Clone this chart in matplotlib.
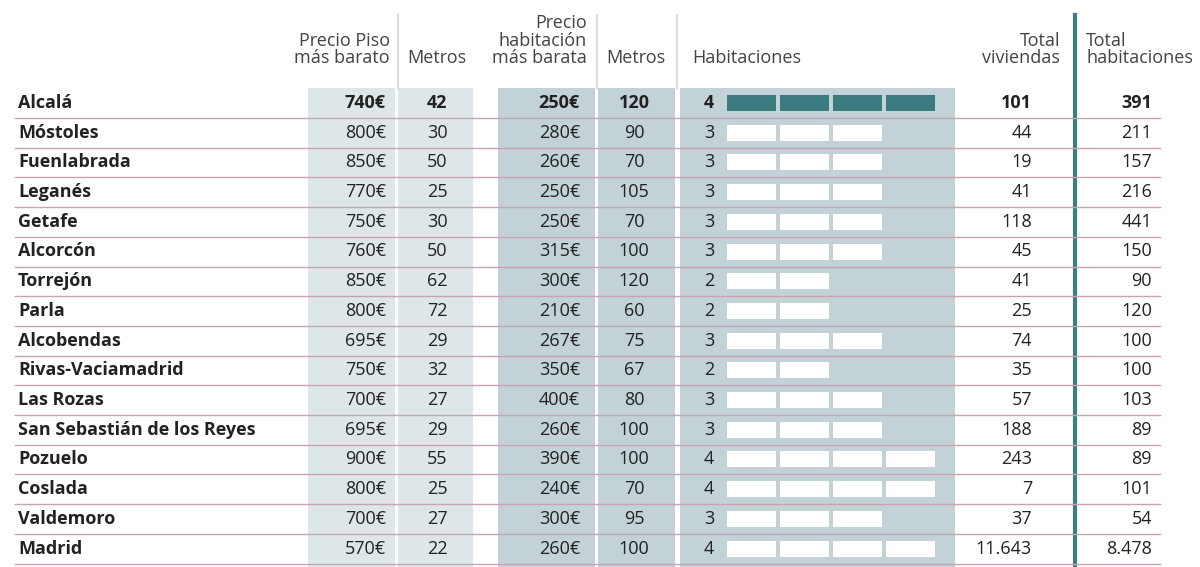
import matplotlib
matplotlib.use("Agg")
import matplotlib.pyplot as plt
from matplotlib.patches import Rectangle

cities = ["Alcalá","Móstoles","Fuenlabrada","Leganés","Getafe","Alcorcón","Torrejón","Parla",
          "Alcobendas","Rivas-Vaciamadrid","Las Rozas","San Sebastián de los Reyes","Pozuelo",
          "Coslada","Valdemoro","Madrid"]
precio_piso = [740,800,850,770,750,760,850,800,695,750,700,695,900,800,700,570]
metros_piso = [42,30,50,25,30,50,62,72,29,32,27,29,55,25,27,22]
precio_hab = [250,280,260,250,250,315,300,210,267,350,400,260,390,240,300,260]
metros_hab = [120,90,70,105,70,100,120,60,75,67,80,100,100,70,95,100]
habitaciones = [4,3,3,3,3,3,2,2,3,2,3,3,4,4,3,4]
total_viv = ["101","44","19","41","118","45","41","25","74","35","57","188","243","7","37","11.643"]
total_hab = ["391","211","157","216","441","150","90","120","100","100","103","89","89","101","54","8.478"]

fig = plt.figure(figsize=(12, 5.67), dpi=100)
ax = fig.add_axes([0, 0, 1, 1])
ax.set_xlim(0, 1200); ax.set_ylim(567, 0); ax.axis("off")
plt.rcParams["font.family"] = "Open Sans"

light = "#dde6e9"; dark = "#c3d2d6"; teal = "#3c7c80"; pink = "#c9a3b4"; txt = "#222222"
for x0, x1, c in [(308,395,light),(398,473,light),(498,595,dark),(598,675,dark),(680,955,dark)]:
    ax.add_patch(Rectangle((x0, 88), x1-x0, 480, color=c, lw=0))
for x in [398, 597, 677]:
    ax.plot([x, x], [15, 88], color="#d5dfe2", lw=1.5)
ax.plot([1075, 1075], [15, 567], color=teal, lw=3)

fs = 13
hdr = dict(fontsize=fs, color="#444444", va="bottom", linespacing=0.95)
ax.text(390, 67, "Precio Piso\nmás barato", ha="right", **hdr)
ax.text(437, 67, "Metros", ha="center", **hdr)
ax.text(587, 67, "Precio\nhabitación\nmás barata", ha="right", **hdr)
ax.text(636, 67, "Metros", ha="center", **hdr)
ax.text(692, 67, "Habitaciones", ha="left", **hdr)
ax.text(1060, 67, "Total\nviviendas", ha="right", **hdr)
ax.text(1086, 67, "Total\nhabitaciones", ha="left", **hdr)

y0, dy = 103, 29.7
for i, c in enumerate(cities):
    y = y0 + i*dy
    w = "bold" if i == 0 else "normal"
    kw = dict(fontsize=fs, color=txt, va="center", fontweight=w)
    ax.text(18, y, c, ha="left", fontsize=fs, color=txt, va="center", fontweight="bold")
    ax.text(386, y, f"{precio_piso[i]}€", ha="right", **kw)
    ax.text(437, y, str(metros_piso[i]), ha="center", **kw)
    ax.text(580, y, f"{precio_hab[i]}€", ha="right", **kw)
    ax.text(634, y, str(metros_hab[i]), ha="center", **kw)
    ax.text(704, y, str(habitaciones[i]), ha="left", **kw)
    ax.text(1032, y, total_viv[i], ha="right", **kw)
    ax.text(1152, y, total_hab[i], ha="right", **kw)
    for k in range(habitaciones[i]):
        ax.add_patch(Rectangle((727 + k*53, y-8), 49, 16,
                               color=teal if i == 0 else "white", lw=0))
    ax.plot([15, 1160], [y+15, y+15], color=pink, lw=1)

fig.savefig("out.png", dpi=100)
